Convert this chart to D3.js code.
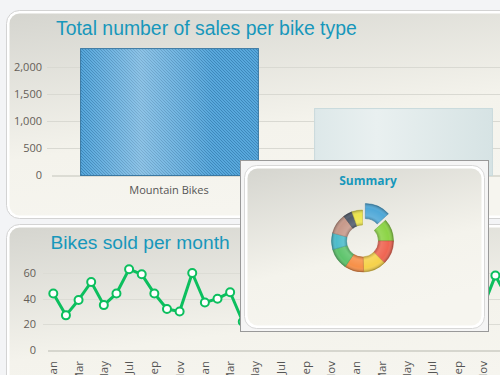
<!DOCTYPE html>
<html>
<head>
<meta charset="utf-8">
<script src="https://cdn.jsdelivr.net/npm/d3@7"></script>
<style>
  html, body { margin: 0; padding: 0; background: #f3f4f6; }
  #container { width: 500px; height: 375px; overflow: hidden; }
</style>
</head>
<body>
<div id="container"></div>
<script>
// bar chart data
const bikeTypes = ["Mountain Bikes", "Road Bikes"];
const bikeSales = [2350, 1240];
const salesTicks = [0, 500, 1000, 1500, 2000];

// monthly line data
const monthLabels = [
  "Jan", "Feb", "Mar", "Apr", "May", "Jun", "Jul", "Aug", "Sep", "Oct", "Nov", "Dec",
  "Jan", "Feb", "Mar", "Apr", "May", "Jun", "Jul", "Aug", "Sep", "Oct", "Nov", "Dec",
  "Jan", "Feb", "Mar", "Apr", "May", "Jun", "Jul", "Aug", "Sep", "Oct", "Nov", "Dec",
  "Jan"
];
const bikesSold = [
  44, 27, 39, 53, 35, 44, 63, 59, 44, 32, 30, 60,
  37, 40, 45, 22, 41, 55, 36, 48, 62, 50, 38, 29,
  46, 57, 34, 43, 51, 39, 47, 60, 42, 36, 33, 58,
  40
];
const soldTicks = [0, 20, 40, 60];

// summary donut
const summaryLabels = ["A", "B", "C", "D", "E", "F", "G", "H", "I", "J"];
const summaryValues = [48, 42, 45, 43, 36, 40, 31, 38, 17, 20];
const summaryColors = ["#4fa8d8", "#8cd446", "#ef6552", "#f6d24a", "#f79048",
                       "#5ec46c", "#4cbccb", "#c7998a", "#525c6b", "#ece54c"];

const W = 500, H = 375;
const svg = d3.select("#container").append("svg")
  .attr("width", W)
  .attr("height", H)
  .style("font-family", "'Open Sans', 'DejaVu Sans', sans-serif");

const defs = svg.append("defs");

const panelGrad = defs.append("linearGradient")
  .attr("id", "panelGrad")
  .attr("x1", 0).attr("y1", 0).attr("x2", 0.35).attr("y2", 1);
panelGrad.append("stop").attr("offset", "0%").attr("stop-color", "#d5d5cf");
panelGrad.append("stop").attr("offset", "65%").attr("stop-color", "#f4f3ec");
panelGrad.append("stop").attr("offset", "100%").attr("stop-color", "#f6f5ef");

const hatch = defs.append("pattern")
  .attr("id", "hatch")
  .attr("patternUnits", "userSpaceOnUse")
  .attr("width", 3).attr("height", 3);
hatch.append("rect").attr("width", 3).attr("height", 3).attr("fill", "#58a8dc");
hatch.append("path").attr("d", "M-1,-1L4,4").attr("stroke", "#3b84b8").attr("stroke-width", 0.9);

const gloss = defs.append("linearGradient").attr("id", "gloss");
gloss.append("stop").attr("offset", "0%").attr("stop-color", "#fff").attr("stop-opacity", 0);
gloss.append("stop").attr("offset", "34%").attr("stop-color", "#fff").attr("stop-opacity", 0.32);
gloss.append("stop").attr("offset", "75%").attr("stop-color", "#fff").attr("stop-opacity", 0);

const paleGrad = defs.append("linearGradient").attr("id", "paleGrad");
paleGrad.append("stop").attr("offset", "0%").attr("stop-color", "#dde8e9");
paleGrad.append("stop").attr("offset", "35%").attr("stop-color", "#e9f0f0");
paleGrad.append("stop").attr("offset", "100%").attr("stop-color", "#d6e3e4");

const bevel = defs.append("radialGradient")
  .attr("id", "bevel")
  .attr("gradientUnits", "userSpaceOnUse")
  .attr("cx", 0).attr("cy", 0).attr("r", 31);
bevel.append("stop").attr("offset", "50%").attr("stop-color", "#000").attr("stop-opacity", 0.25);
bevel.append("stop").attr("offset", "62%").attr("stop-color", "#fff").attr("stop-opacity", 0.12);
bevel.append("stop").attr("offset", "85%").attr("stop-color", "#fff").attr("stop-opacity", 0);
bevel.append("stop").attr("offset", "100%").attr("stop-color", "#000").attr("stop-opacity", 0.28);

function panel(x, y, w, h) {
  svg.append("rect")
    .attr("x", x).attr("y", y).attr("width", w).attr("height", h)
    .attr("rx", 13)
    .attr("fill", "#fff").attr("stroke", "#d3d3d3");
  svg.append("rect")
    .attr("x", x + 3).attr("y", y + 3).attr("width", w - 6).attr("height", h - 6)
    .attr("rx", 10)
    .attr("fill", "url(#panelGrad)");
}

panel(6.5, 10.5, 530, 208);
panel(6.5, 224.5, 530, 190);

// ---- top chart: sales per bike type
svg.append("text")
  .attr("x", 56).attr("y", 34.5)
  .style("font-family", "'Liberation Sans', Arial, sans-serif")
  .style("font-size", "19.4px")
  .style("fill", "#1797bb")
  .text("Total number of sales per bike type");

const x1 = d3.scaleBand()
  .domain(bikeTypes)
  .range([52, 520])
  .paddingInner(0.24)
  .paddingOuter(0.12);

const y1 = d3.scaleLinear()
  .domain([0, 2500])
  .range([175, 40]);

const g1 = svg.append("g");

g1.selectAll(".grid")
  .data(salesTicks.filter(d => d > 0))
  .join("line")
  .attr("x1", 47).attr("x2", 520)
  .attr("y1", d => y1(d) + 0.5).attr("y2", d => y1(d) + 0.5)
  .attr("stroke", "#d9d9d2");

g1.append("line")
  .attr("x1", 52).attr("x2", 520)
  .attr("y1", y1(0) + 1).attr("y2", y1(0) + 1)
  .attr("stroke", "#dcdcd4").attr("stroke-width", 2);

g1.selectAll(".ytick")
  .data(salesTicks)
  .join("text")
  .attr("x", 42).attr("y", d => y1(d))
  .attr("dy", "0.35em")
  .attr("text-anchor", "end")
  .style("font-size", "11px")
  .style("fill", "#655e58")
  .text(d => d3.format(",")(d));

g1.selectAll(".bar")
  .data(bikeTypes)
  .join("rect")
  .attr("x", d => x1(d) + 0.5)
  .attr("y", (d, i) => y1(bikeSales[i]) + 0.5)
  .attr("width", x1.bandwidth())
  .attr("height", (d, i) => y1(0) - y1(bikeSales[i]))
  .attr("fill", (d, i) => i === 0 ? "url(#hatch)" : "url(#paleGrad)")
  .attr("stroke", (d, i) => i === 0 ? "#3a78a2" : "#c9dadc");

g1.append("rect")
  .attr("x", x1(bikeTypes[0]) + 1)
  .attr("y", y1(bikeSales[0]) + 1)
  .attr("width", x1.bandwidth() - 1)
  .attr("height", y1(0) - y1(bikeSales[0]) - 1)
  .attr("fill", "url(#gloss)");

g1.selectAll(".xlabel")
  .data(bikeTypes)
  .join("text")
  .attr("x", d => x1(d) + x1.bandwidth() / 2)
  .attr("y", 194)
  .attr("text-anchor", "middle")
  .style("font-size", "11px")
  .style("fill", "#555")
  .text(d => d);

// ---- bottom chart: bikes sold per month
svg.append("text")
  .attr("x", 50.5).attr("y", 248.5)
  .style("font-family", "'Liberation Sans', Arial, sans-serif")
  .style("font-size", "19.2px")
  .style("fill", "#1797bb")
  .text("Bikes sold per month");

const x2 = d3.scaleLinear()
  .domain([0, 35])
  .range([53.3, 495.4]);

const y2 = d3.scaleLinear()
  .domain([0, 70])
  .range([350, 260.2]);

const g2 = svg.append("g");

g2.selectAll(".grid")
  .data(soldTicks.filter(d => d > 0))
  .join("line")
  .attr("x1", 43).attr("x2", 520)
  .attr("y1", d => Math.round(y2(d)) + 0.5).attr("y2", d => Math.round(y2(d)) + 0.5)
  .attr("stroke", "#dcdcd5");

g2.append("line")
  .attr("x1", 48).attr("x2", 520)
  .attr("y1", y2(0) + 1).attr("y2", y2(0) + 1)
  .attr("stroke", "#d6d6ce").attr("stroke-width", 2);

g2.selectAll(".ytick")
  .data(soldTicks)
  .join("text")
  .attr("x", 36).attr("y", d => y2(d))
  .attr("dy", "0.35em")
  .attr("text-anchor", "end")
  .style("font-size", "11px")
  .style("fill", "#655e58")
  .text(d => d);

// month labels sit low, the panel cuts them at the bottom edge
g2.selectAll(".xtick")
  .data(monthLabels.map((m, i) => ({m, i})).filter(d => d.i % 2 === 0))
  .join("text")
  .attr("transform", d => `translate(${x2(d.i)},361) rotate(-90)`)
  .attr("dy", "0.35em")
  .attr("text-anchor", "end")
  .style("font-size", "11.5px")
  .style("fill", "#555")
  .text(d => d.m);

const line = d3.line()
  .x((d, i) => x2(i))
  .y(d => y2(d));

g2.append("path")
  .datum(bikesSold)
  .attr("fill", "none")
  .attr("stroke", "#0cbf5e")
  .attr("stroke-width", 3)
  .attr("stroke-linejoin", "round")
  .attr("d", line);

g2.selectAll(".dot")
  .data(bikesSold)
  .join("circle")
  .attr("cx", (d, i) => x2(i))
  .attr("cy", d => y2(d))
  .attr("r", 4)
  .attr("fill", "#fff")
  .attr("stroke", "#0cbf5e")
  .attr("stroke-width", 2);

// ---- summary popup
svg.append("rect")
  .attr("x", 240.5).attr("y", 160.5)
  .attr("width", 248).attr("height", 171)
  .attr("fill", "#f5f5f5")
  .attr("stroke", "#999");

svg.append("rect")
  .attr("x", 244.5).attr("y", 165.5)
  .attr("width", 240).attr("height", 163)
  .attr("rx", 12)
  .attr("fill", "#fff")
  .attr("stroke", "#d8d8d8");

svg.append("rect")
  .attr("x", 247.5).attr("y", 168.5)
  .attr("width", 234).attr("height", 157)
  .attr("rx", 10)
  .attr("fill", "url(#panelGrad)");

svg.append("text")
  .attr("x", 368).attr("y", 185)
  .attr("text-anchor", "middle")
  .style("font-size", "12px")
  .style("font-weight", "bold")
  .style("fill", "#1797bb")
  .text("Summary");

const pie = d3.pie().sort(null).value(d => d);
const arc = d3.arc().innerRadius(16).outerRadius(31);
const arcs = pie(summaryValues);

const donut = svg.append("g")
  .attr("transform", "translate(362.5,241)");

arcs.forEach((a, i) => {
  const mid = (a.startAngle + a.endAngle) / 2;
  const off = i === 0 ? 7 : 0;
  const slice = donut.append("g")
    .attr("transform", `translate(${Math.sin(mid) * off},${-Math.cos(mid) * off})`);
  slice.append("path")
    .attr("d", arc(a))
    .attr("fill", summaryColors[i])
    .attr("stroke", d3.color(summaryColors[i]).darker(0.6))
    .attr("stroke-width", 0.6);
  slice.append("path")
    .attr("d", arc(a))
    .attr("fill", "url(#bevel)");
});
</script>
</body>
</html>
